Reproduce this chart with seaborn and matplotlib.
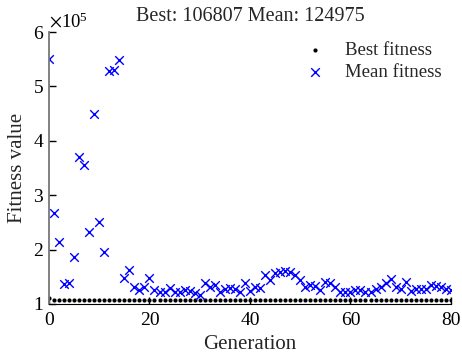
import numpy as np
import pandas as pd
import matplotlib
matplotlib.use("Agg")
import matplotlib.pyplot as plt
import seaborn as sns
from matplotlib.ticker import ScalarFormatter

generation = list(range(81))
mean_fitness = [
    551000, 267000, 214000, 137000, 139000, 186000, 370000, 355000, 232000, 450000,
    250000, 195000, 529000, 531000, 548000, 148000, 162000, 131000, 126000, 131000,
    148000, 126000, 122000, 122000, 129000, 122000, 122000, 126000, 124000, 120000,
    117000, 138000, 131000, 135000, 122000, 127000, 129000, 127000, 122000, 138000,
    124000, 131000, 129000, 153000, 144000, 157000, 159000, 161000, 159000, 153000,
    144000, 131000, 135000, 133000, 126000, 140000, 138000, 131000, 122000, 122000,
    122000, 126000, 126000, 122000, 122000, 127000, 131000, 138000, 146000, 131000,
    127000, 140000, 124000, 127000, 127000, 127000, 135000, 133000, 131000, 127000,
    124975,
]
best_fitness = [110500, 107500, 107500] + [106807] * 78

df = pd.DataFrame({"Generation": generation, "Best": best_fitness, "Mean": mean_fitness})

sns.set_style("ticks")
plt.rcParams['font.family'] = ['Liberation Serif', 'DejaVu Serif']
plt.rcParams['mathtext.fontset'] = 'stix'

fig = plt.figure(figsize=(4.62, 3.61), dpi=100)
ax = fig.add_axes([0.106, 0.158, 0.87, 0.753])

sns.scatterplot(data=df, x="Generation", y="Best", color="black", marker="o",
                s=9, edgecolor="black", linewidth=0, label="Best fitness", ax=ax)
sns.scatterplot(data=df, x="Generation", y="Mean", color=(0, 0, 1), marker="x",
                s=38, linewidth=1.0, label="Mean fitness", ax=ax)

ax.set_xlim(0, 80)
ax.set_ylim(1e5, 6e5)
ax.set_xticks([0, 20, 40, 60, 80])
ax.set_yticks([1e5, 2e5, 3e5, 4e5, 5e5, 6e5])
fmt = ScalarFormatter(useMathText=True)
fmt.set_powerlimits((0, 0))
ax.yaxis.set_major_formatter(fmt)
ax.yaxis.get_offset_text().set_fontsize(13.5)

ax.tick_params(direction="in", length=5, width=1, labelsize=14, colors="black")
ax.tick_params(axis="x", pad=6)
ax.spines["top"].set_visible(False)
ax.spines["right"].set_visible(False)
ax.spines["left"].set_color("#777777")
ax.spines["left"].set_linewidth(1.3)
ax.spines["bottom"].set_color("black")

ax.set_xlabel("Generation", fontsize=15, labelpad=4)
ax.set_ylabel("Fitness value", fontsize=15, labelpad=4)
ax.set_title("Best: 106807 Mean: 124975", fontsize=14.5, pad=8)

leg = ax.legend(loc="upper right", frameon=False, fontsize=13.5,
                handletextpad=0.6, borderaxespad=0.1, labelspacing=0.3,
                markerscale=1.0)

fig.savefig("out.png", dpi=100)
